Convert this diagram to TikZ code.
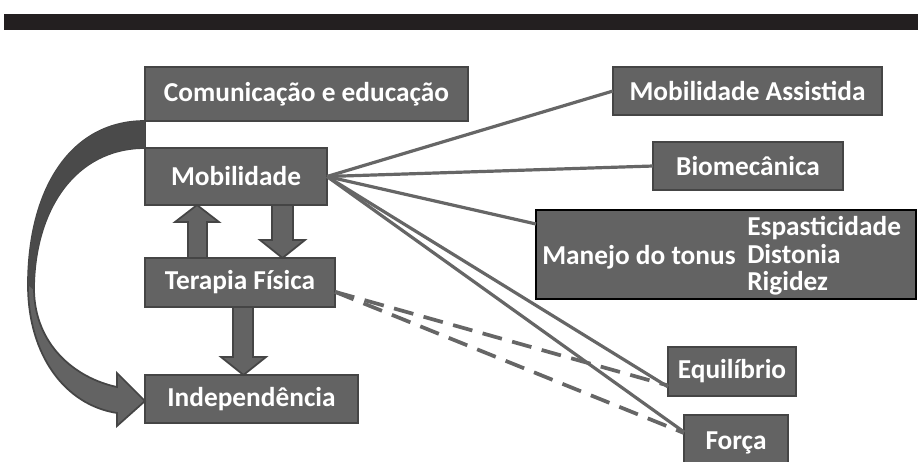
\documentclass[tikz,border=0pt]{standalone}
\usepackage{fontspec}
\setmainfont{Carlito}
\begin{document}
\begin{tikzpicture}[x=0.75pt,y=-0.75pt,
  box/.style={draw=boxborder,fill=boxfill,line width=1.5pt,inner sep=0pt,outer sep=0pt,
    text=white,font=\bfseries\fontsize{20.5}{20.5}\selectfont},
  txt/.style={inner sep=0pt,text=white,font=\bfseries\fontsize{20.5}{20.5}\selectfont},
  link/.style={draw=linecol,line width=2.4pt},
  dlink/.style={draw=linecol,line width=2.8pt,dash pattern=on 15pt off 8pt},
  blockarrow/.style={draw=boxborder,fill=boxfill,line width=1.3pt,line join=miter}]
\definecolor{boxfill}{HTML}{636363}
\definecolor{boxborder}{HTML}{454545}
\definecolor{linecol}{HTML}{666666}
\definecolor{topbar}{HTML}{231F20}
\definecolor{backfill}{HTML}{4A4A4A}
\useasboundingbox (0,0) rectangle (918,461);
\fill[topbar] (4,14) rectangle (918,30);
% left column
\node[box,minimum width=242.25pt,minimum height=40.5pt] (com) at (306.5,94) {Comunicação e educação};
\node[box,minimum width=136.5pt,minimum height=42.75pt] (mob) at (236,176.5) {Mobilidade};
\node[box,minimum width=142.5pt,minimum height=36.75pt] (ter) at (240,282.5) {Terapia Física};
\node[box,minimum width=159.75pt,minimum height=36pt] (ind) at (251.5,399) {Independência};
% right column
\node[box,minimum width=201.75pt,minimum height=36pt] (ma) at (747.5,91) {Mobilidade Assistida};
\node[box,minimum width=142.5pt,minimum height=36pt] (bio) at (748,166) {Biomecânica};
\node[box,draw=black,line width=2.2pt,minimum width=285pt,minimum height=66.75pt] (man) at (726,254.5) {};
\node[txt,anchor=west] (mant) at (542,257) {Manejo do tonus};
\node[txt,anchor=west,align=left,font=\bfseries\fontsize{20.5}{20.5}\selectfont] (mans) at (747,256) {Espasticidade\\Distonia\\Rigidez};
\node[box,minimum width=96pt,minimum height=36.75pt] (eq) at (732,371.5) {Equilíbrio};
\node[box,minimum width=78pt,minimum height=41.25pt] (fo) at (736,442.5) {Força};
% connectors
\draw[link] (mob.east) -- (ma.west);
\draw[link] (mob.east) -- (bio.west);
\draw[link] (mob.east) -- ([yshift=-10.5pt]man.north west);
\draw[link] (mob.east) -- ([yshift=-11.5pt]eq.west);
\draw[link] (mob.east) -- ([yshift=-12.75pt]fo.north west);
\draw[dlink] ([yshift=-7pt]ter.east) -- ([yshift=-10.5pt]eq.west);
\draw[dlink] ([yshift=-7pt]ter.east) -- ([yshift=-13.5pt]fo.north west);
% block arrows
\filldraw[blockarrow] (188,0 |- ter.north) -- (188,222) -- (175,222) -- (197,0 |- mob.south) -- (219,222) -- (207,222) -- (207,0 |- ter.north) -- cycle;
\filldraw[blockarrow] (272,0 |- mob.south) -- (272,240) -- (260,240) -- (282.5,0 |- ter.north) -- (305,240) -- (293,240) -- (293,0 |- mob.south) -- cycle;
\filldraw[blockarrow] (233,0 |- ter.south) -- (233,357) -- (221,357) -- (243.5,0 |- ind.north) -- (266,357) -- (253,357) -- (253,0 |- ter.south) -- cycle;
% curved arrow
\filldraw[blockarrow] (com.south west) .. controls (70,121) and (28,190) .. (28,285)
  .. controls (28,355) and (65,405) .. (117,413) -- (117,426) -- (145,401) -- (117,373) -- (117,387)
  .. controls (75,378) and (35,345) .. (34,290) .. controls (34,210) and (75,148) .. (mob.north west) -- cycle;
\fill[backfill] (com.south west) .. controls (70,121) and (28,190) .. (28,285) -- (34,290)
  .. controls (34,210) and (75,148) .. (mob.north west) -- cycle;
\end{tikzpicture}
\end{document}
